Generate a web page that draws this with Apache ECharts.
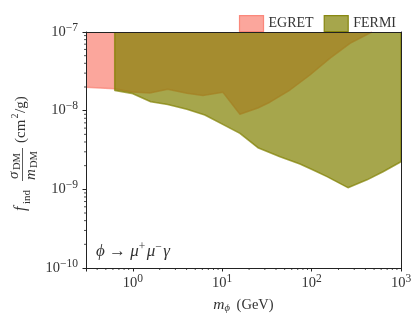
<!DOCTYPE html>
<html>
<head>
<meta charset="utf-8">
<script src="https://cdn.jsdelivr.net/npm/echarts@6/dist/echarts.min.js"></script>
<style>
  html, body { margin: 0; padding: 0; background: #fff; }
  #chart { width: 417px; height: 321px; }
</style>
</head>
<body>
<div id="chart"></div>
<script>
// axis ranges
const xMin = 0.3, xMax = 1000;
const yMin = 1e-10, yMax = 1e-7;

// EGRET limit (lower edge of the excluded region)
const egretMass = [0.3, 0.63, 0.975, 1.55, 2.46, 4.03, 6.08, 10.2, 15.8, 25.1, 34.2, 57.3, 95.9, 160, 269, 473];
const egretLimit = [1.98e-8, 1.90e-8, 1.73e-8, 1.68e-8, 1.87e-8, 1.66e-8, 1.56e-8, 1.71e-8, 9.0e-9, 1.08e-8, 1.28e-8, 1.83e-8, 2.84e-8, 4.63e-8, 7.18e-8, 1.0e-7];

// FERMI limit
const fermiMass = [0.629, 0.629, 0.975, 1.59, 2.46, 4.03, 6.40, 9.42, 15.8, 25.1, 44.3, 74.1, 104, 149, 255, 417, 630, 1000, 1000];
const fermiLimit = [1e-7, 1.81e-8, 1.66e-8, 1.30e-8, 1.20e-8, 1.04e-8, 8.8e-9, 7.0e-9, 5.15e-9, 3.38e-9, 2.60e-9, 2.10e-9, 1.76e-9, 1.45e-9, 1.05e-9, 1.32e-9, 1.67e-9, 2.24e-9, 1e-7];

// minor tick positions
const xMinorTicks = [0.4, 0.5, 0.6, 0.7, 0.8, 0.9, 2, 3, 4, 5, 6, 7, 8, 9, 20, 30, 40, 50, 60, 70, 80, 90, 200, 300, 400, 500, 600, 700, 800, 900];
const yMinorTicks = [2e-10, 3e-10, 4e-10, 5e-10, 6e-10, 7e-10, 8e-10, 9e-10, 2e-9, 3e-9, 4e-9, 5e-9, 6e-9, 7e-9, 8e-9, 9e-9, 2e-8, 3e-8, 4e-8, 5e-8, 6e-8, 7e-8, 8e-8, 9e-8];

const serif = '"Liberation Serif", "DejaVu Serif", serif';
const ink = '#333';
const egretColor = 'rgba(250,128,114,0.7)';
const fermiColor = 'rgba(128,128,0,0.7)';

const chart = echarts.init(document.getElementById('chart'), null, { renderer: 'canvas' });

function zip(xs, ys) {
  return xs.map((x, i) => [x, ys[i]]);
}

function powLabel(v) {
  const e = Math.log10(v);
  if (Math.abs(e - Math.round(e)) > 1e-6) return '';
  const n = Math.round(e);
  return '{b|10}{s|' + (n < 0 ? '\u2212' + (-n) : n) + '}';
}

const labelRich = {
  b: { fontFamily: serif, fontSize: 14.5, color: ink },
  s: { fontFamily: serif, fontSize: 11.5, color: ink, padding: [0, 0, 9, 0] }
};

const spine = { show: true, lineStyle: { color: '#222', width: 1 } };

var option = {
  animation: false,
  grid: { left: 86, right: 16, top: 32, bottom: 53, containLabel: false },
  legend: {
    right: 16,
    top: 10,
    icon: 'rect',
    itemWidth: 24,
    itemHeight: 16,
    itemGap: 10,
    textStyle: { fontFamily: serif, fontSize: 14, color: ink },
    data: [
      { name: 'EGRET', itemStyle: { color: egretColor, borderColor: 'rgba(250,128,114,0.9)', borderWidth: 1.2 } },
      { name: 'FERMI', itemStyle: { color: fermiColor, borderColor: 'rgba(128,128,0,0.9)', borderWidth: 1.2 } }
    ]
  },
  xAxis: [
    {
      type: 'log', logBase: 10, min: xMin, max: xMax, position: 'bottom', z: 10,
      axisLine: spine,
      axisTick: { show: true, inside: false, length: 3.5, lineStyle: { color: '#222' } },
      axisLabel: { formatter: powLabel, rich: labelRich, margin: 5 },
      splitLine: { show: false },
      name: '{i|m}{sub|\u03d5} (GeV)',
      nameLocation: 'middle',
      nameGap: 28,
      nameTextStyle: {
        fontFamily: serif, fontSize: 14.5, color: ink,
        rich: {
          i: { fontFamily: serif, fontSize: 15.5, fontStyle: 'italic', color: ink },
          sub: { fontFamily: serif, fontSize: 10.5, fontStyle: 'italic', color: ink, padding: [7, 3, 0, 0] }
        }
      }
    },
    {
      type: 'log', logBase: 10, min: xMin, max: xMax, position: 'top', z: 10,
      axisLine: spine, axisTick: { show: false }, axisLabel: { show: false }, splitLine: { show: false }
    }
  ],
  yAxis: [
    {
      type: 'log', logBase: 10, min: yMin, max: yMax, position: 'left', z: 10,
      axisLine: spine,
      axisTick: { show: true, inside: false, length: 3.5, lineStyle: { color: '#222' } },
      axisLabel: { formatter: powLabel, rich: labelRich, margin: 8 },
      splitLine: { show: false }
    },
    {
      type: 'log', logBase: 10, min: yMin, max: yMax, position: 'right', z: 10,
      axisLine: spine, axisTick: { show: false }, axisLabel: { show: false }, splitLine: { show: false }
    }
  ],
  series: [
    {
      name: 'EGRET',
      type: 'line',
      data: zip(egretMass, egretLimit),
      showSymbol: false,
      lineStyle: { color: egretColor, width: 1.5 },
      itemStyle: { color: egretColor },
      areaStyle: { origin: 'end', color: egretColor, opacity: 1 },
      z: 2
    },
    {
      name: 'FERMI',
      type: 'line',
      data: zip(fermiMass, fermiLimit),
      showSymbol: false,
      lineStyle: { color: fermiColor, width: 1.6 },
      itemStyle: { color: fermiColor },
      areaStyle: { origin: 'end', color: fermiColor, opacity: 1 },
      z: 3
    },
    {
      type: 'custom',
      silent: true,
      data: xMinorTicks.map(v => [v, yMin]),
      renderItem: function (params, api) {
        const p = api.coord([api.value(0), api.value(1)]);
        return { type: 'line', shape: { x1: p[0], y1: p[1], x2: p[0], y2: p[1] + 2 }, style: { stroke: '#222', lineWidth: 0.8 } };
      },
      z: 10
    },
    {
      type: 'custom',
      silent: true,
      data: yMinorTicks.map(v => [xMin, v]),
      renderItem: function (params, api) {
        const p = api.coord([api.value(0), api.value(1)]);
        return { type: 'line', shape: { x1: p[0] - 2, y1: p[1], x2: p[0], y2: p[1] }, style: { stroke: '#222', lineWidth: 0.8 } };
      },
      z: 10
    }
  ],
  graphic: [
    {
      // process annotation
      type: 'text',
      left: 96,
      top: 241,
      style: {
        text: '{i|\u03d5} \u2192 {i|\u03bc}{s|+}{i|\u03bc}{s|\u2212}{i|\u03b3}',
        font: '17px ' + serif,
        fill: ink,
        rich: {
          i: { fontFamily: serif, fontSize: 17, fontStyle: 'italic', color: ink },
          s: { fontFamily: serif, fontSize: 11.5, color: ink, padding: [0, 1.5, 9, 0] }
        }
      }
    },
    {
      // y axis title, rotated
      type: 'group',
      x: 22,
      y: 211,
      rotation: Math.PI / 2,
      children: [
        { type: 'text', style: { text: 'f', x: 0, y: -1, font: 'italic 16px ' + serif, fill: ink, verticalAlign: 'middle' } },
        { type: 'text', style: { text: 'ind', x: 7, y: 5, font: '11px ' + serif, fill: ink, verticalAlign: 'middle' } },
        { type: 'text', style: { text: '\u03c3', x: 32, y: -8, font: 'italic 15px ' + serif, fill: ink, verticalAlign: 'middle' } },
        { type: 'text', style: { text: 'DM', x: 41, y: -5, font: '10.5px ' + serif, fill: ink, verticalAlign: 'middle' } },
        { type: 'line', shape: { x1: 30, y1: 0.5, x2: 63, y2: 0.5 }, style: { stroke: ink, lineWidth: 0.8 } },
        { type: 'text', style: { text: 'm', x: 31, y: 9, font: 'italic 15px ' + serif, fill: ink, verticalAlign: 'middle' } },
        { type: 'text', style: { text: 'DM', x: 43, y: 12, font: '10.5px ' + serif, fill: ink, verticalAlign: 'middle' } },
        { type: 'text', style: { text: '(cm', x: 68, y: -1, font: '15px ' + serif, fill: ink, verticalAlign: 'middle' } },
        { type: 'text', style: { text: '2', x: 92.5, y: -7, font: '10px ' + serif, fill: ink, verticalAlign: 'middle' } },
        { type: 'text', style: { text: '/g)', x: 98, y: -1, font: '15px ' + serif, fill: ink, verticalAlign: 'middle' } }
      ]
    }
  ]
};

chart.setOption(option);
</script>
</body>
</html>
